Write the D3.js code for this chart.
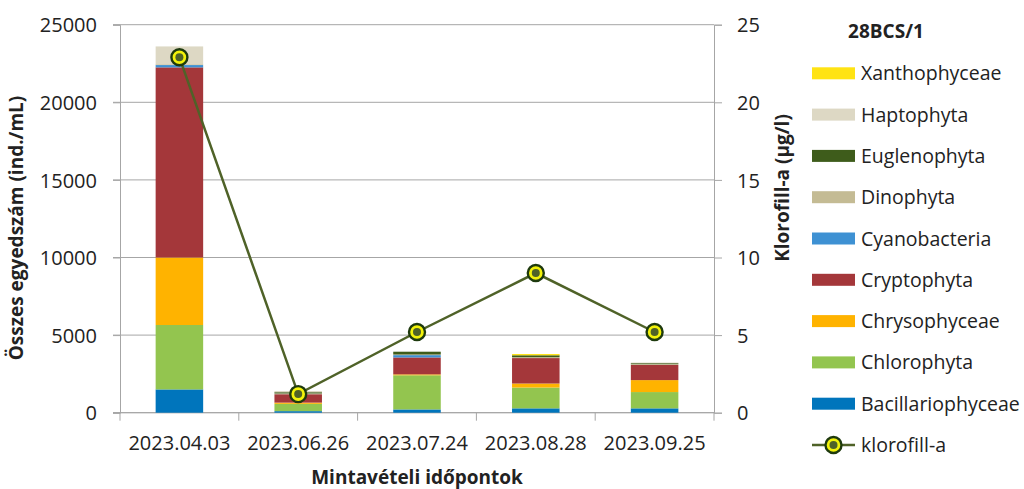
<!DOCTYPE html>
<html lang="hu">
<head>
<meta charset="UTF-8">
<title>28BCS/1</title>
<script src="https://d3js.org/d3.v7.min.js"></script>
<style>
  body { margin: 0; background: #fff; }
  svg text { font-family: "Open Sans", "Noto Sans", sans-serif; fill: #222; }
</style>
</head>
<body>
<div class="chart"></div>
<script>
// mintavételi időpontok
const dates = ['2023.04.03', '2023.06.26', '2023.07.24', '2023.08.28', '2023.09.25']

// csoportok alulról felfelé (ind./mL)
const groups = ['Bacillariophyceae', 'Chlorophyta', 'Chrysophyceae', 'Cryptophyta',
                'Cyanobacteria', 'Dinophyta', 'Euglenophyta', 'Haptophyta', 'Xanthophyceae']
const bacillariophyceae = [1500, 100, 210, 280, 280]
const chlorophyta       = [4150, 470, 2200, 1340, 1050]
const chrysophyceae     = [4350, 80, 60, 260, 770]
const cryptophyta       = [12250, 540, 1090, 1640, 980]
const cyanobacteria     = [150, 0, 150, 0, 0]
const dinophyta         = [50, 50, 40, 60, 50]
const euglenophyta      = [0, 80, 180, 120, 60]
const haptophyta        = [1150, 80, 0, 0, 40]
const xanthophyceae     = [0, 0, 0, 80, 0]

// klorofill-a (µg/l)
const klorofill = [22.9, 1.2, 5.2, 9.0, 5.2]

const leftTicks = [0, 5000, 10000, 15000, 20000, 25000]
const rightTicks = [0, 5, 10, 15, 20, 25]

const colors = ['#0075BC', '#93C54F', '#FFB300', '#A4373A', '#3E91D3',
                '#C4BB94', '#3E5C1B', '#DDD8C4', '#FFE313']

const series = [bacillariophyceae, chlorophyta, chrysophyceae, cryptophyta,
                cyanobacteria, dinophyta, euglenophyta, haptophyta, xanthophyceae]

// táblázat a d3.stack számára
const table = dates.map((d, i) => {
  const row = { date: d }
  groups.forEach((g, k) => row[g] = series[k][i])
  return row
})

const W = 1024, H = 489
const mLeft = 120, mRight = 714, mTop = 24.7, mBottom = 412.7
const gridColor = '#a6a6a6'

const svg = d3.select('.chart').append('svg')
  .attr('width', W).attr('height', H)

const x = d3.scaleBand().domain(dates).range([mLeft, mRight]).paddingInner(0.6).paddingOuter(0.3)
const xBand = d3.scaleBand().domain(dates).range([mLeft, mRight])
const yL = d3.scaleLinear().domain([0, 25000]).range([mBottom, mTop])
const yR = d3.scaleLinear().domain([0, 25]).range([mBottom, mTop])
const color = d3.scaleOrdinal().domain(groups).range(colors)

// rácsvonalak
svg.append('g').selectAll('line').data(leftTicks).join('line')
  .attr('x1', mLeft - 7).attr('x2', mRight)
  .attr('y1', d => yL(d)).attr('y2', d => yL(d))
  .attr('stroke', gridColor).attr('stroke-width', 1)

// bal tengely
const yAxisL = d3.axisLeft(yL).tickValues(leftTicks).tickFormat(d3.format('d'))
  .tickSize(7).tickPadding(16)
const gL = svg.append('g').attr('transform', `translate(${mLeft},0)`).call(yAxisL)
gL.select('.domain').attr('stroke', gridColor)
gL.selectAll('.tick line').attr('stroke', gridColor)
gL.selectAll('.tick text').style('font-size', '20px').attr('dy', '0.36em')

// jobb tengely
const yAxisR = d3.axisRight(yR).tickValues(rightTicks).tickSize(8).tickPadding(15)
const gR = svg.append('g').attr('transform', `translate(${mRight},0)`).call(yAxisR)
gR.select('.domain').attr('stroke', gridColor)
gR.selectAll('.tick line').attr('stroke', gridColor)
gR.selectAll('.tick text').style('font-size', '20px').attr('dy', '0.36em')

// x tengely
const gX = svg.append('g').attr('transform', `translate(0,${mBottom})`)
gX.append('line').attr('x1', mLeft - 7).attr('x2', mRight).attr('stroke', gridColor)
gX.selectAll('.xt').data(dates.concat(['end'])).join('line')
  .attr('class', 'xt')
  .attr('x1', (d, i) => mLeft + i * xBand.bandwidth())
  .attr('x2', (d, i) => mLeft + i * xBand.bandwidth())
  .attr('y1', 0).attr('y2', 8)
  .attr('stroke', gridColor)
gX.selectAll('.xl').data(dates).join('text')
  .attr('class', 'xl')
  .attr('x', d => xBand(d) + xBand.bandwidth() / 2)
  .attr('y', 37)
  .attr('text-anchor', 'middle')
  .style('font-size', '20px')
  .text(d => d)

// halmozott oszlopok
const stacked = d3.stack().keys(groups)(table)
svg.append('g').selectAll('g').data(stacked).join('g')
  .attr('fill', d => color(d.key))
  .selectAll('rect').data(d => d).join('rect')
  .attr('x', d => x(d.data.date))
  .attr('y', d => yL(d[1]))
  .attr('width', x.bandwidth())
  .attr('height', d => yL(d[0]) - yL(d[1]))

// klorofill-a vonal
const cx = (d, i) => xBand(dates[i]) + xBand.bandwidth() / 2
const line = d3.line().x((d, i) => cx(d, i)).y(d => yR(d))
svg.append('path').datum(klorofill)
  .attr('d', line).attr('fill', 'none')
  .attr('stroke', '#4F6228').attr('stroke-width', 2.5)

function marker(g) {
  g.append('circle').attr('r', 8).attr('fill', '#F2F20A')
    .attr('stroke', '#1E3A0E').attr('stroke-width', 2.4)
  g.append('circle').attr('r', 4).attr('fill', '#4F6228')
}
const pts = svg.append('g').selectAll('g').data(klorofill).join('g')
  .attr('transform', (d, i) => `translate(${cx(d, i)},${yR(d)})`)
pts.each(function() { marker(d3.select(this)) })

// tengelycímek
svg.append('text')
  .attr('transform', `translate(23,228) rotate(-90)`)
  .attr('text-anchor', 'middle')
  .style('font-size', '19px').style('font-weight', 'bold')
  .text('Összes egyedszám (ind./mL)')

svg.append('text')
  .attr('transform', `translate(789,188) rotate(-90)`)
  .attr('text-anchor', 'middle')
  .style('font-size', '19px').style('font-weight', 'bold')
  .text('Klorofill-a  (µg/l)')

svg.append('text')
  .attr('x', 417).attr('y', 484)
  .attr('text-anchor', 'middle')
  .style('font-size', '19px').style('font-weight', 'bold')
  .text('Mintavételi időpontok')

// jelmagyarázat
svg.append('text')
  .attr('x', 886).attr('y', 38)
  .attr('text-anchor', 'middle')
  .style('font-size', '19px').style('font-weight', 'bold')
  .text('28BCS/1')

const legendKeys = groups.slice().reverse()
const leg = svg.append('g').selectAll('g').data(legendKeys).join('g')
  .attr('transform', (d, i) => `translate(812,${73.3 + i * 41.3})`)
leg.append('rect')
  .attr('x', 0).attr('y', -6).attr('width', 43).attr('height', 12)
  .attr('fill', d => color(d))
leg.append('text')
  .attr('x', 49).attr('y', 0).attr('dy', '0.36em')
  .style('font-size', '19.5px')
  .text(d => d)

const kl = svg.append('g').attr('transform', `translate(812,${73.3 + 9 * 41.3})`)
kl.append('line').attr('x1', 0).attr('x2', 43)
  .attr('stroke', '#4F6228').attr('stroke-width', 2.5)
marker(kl.append('g').attr('transform', 'translate(21.5,0)'))
kl.append('text')
  .attr('x', 49).attr('y', 0).attr('dy', '0.36em')
  .style('font-size', '19.5px')
  .text('klorofill-a')
</script>
</body>
</html>
